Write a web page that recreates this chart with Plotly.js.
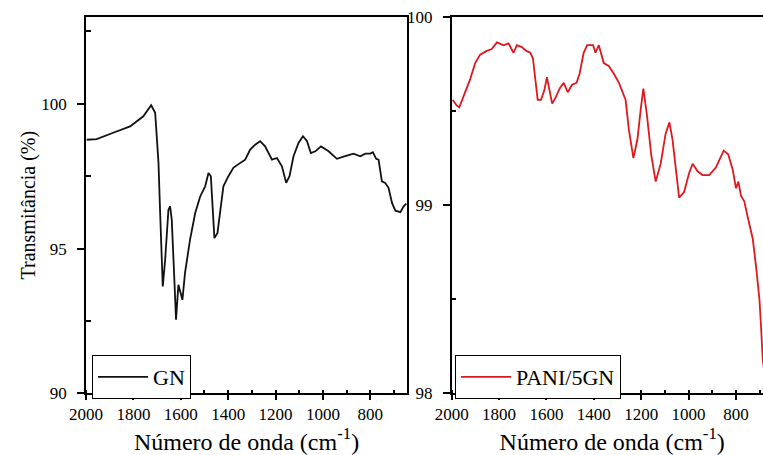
<!DOCTYPE html>
<html>
<head>
<meta charset="utf-8">
<script src="https://cdn.plot.ly/plotly-3.0.1.min.js"></script>
<style>
  html, body { margin: 0; padding: 0; overflow: hidden; background: #fff; }
  #chart { width: 780px; height: 455px; }
  #fontwarm { position: absolute; left: 0; top: 0; visibility: hidden; font-family: 'Liberation Serif', 'Times New Roman', serif; font-size: 17px; }
</style>
</head>
<body>
<div id="fontwarm">Número de onda 0123456789 Transmitância PANI/5GN</div>
<div id="chart"></div>
<script>
// FTIR spectra: wavenumber (cm-1) vs transmittance (%)
const gnWavenumber = [1997, 1955, 1885, 1814, 1758, 1725, 1708, 1694, 1687, 1676, 1666, 1652, 1645, 1638, 1627, 1620, 1610, 1603, 1593, 1582, 1561, 1539, 1518, 1497, 1483, 1473, 1465, 1458, 1445, 1434, 1420, 1399, 1378, 1349, 1328, 1307, 1286, 1265, 1244, 1215, 1194, 1173, 1155, 1141, 1124, 1103, 1084, 1067, 1051, 1032, 1008, 976, 941, 906, 871, 842, 821, 800, 789, 775, 765, 751, 737, 723, 708, 694, 673, 659, 648];
const gnTransmittance = [98.76, 98.78, 99.0, 99.22, 99.57, 99.95, 99.69, 97.96, 96.23, 93.69, 94.6, 96.34, 96.46, 96.0, 93.92, 92.54, 93.75, 93.57, 93.23, 94.16, 95.3, 96.23, 96.8, 97.15, 97.61, 97.5, 96.23, 95.36, 95.54, 96.23, 97.15, 97.5, 97.79, 97.96, 98.07, 98.42, 98.59, 98.71, 98.53, 98.07, 98.13, 97.84, 97.27, 97.5, 98.19, 98.65, 98.88, 98.71, 98.3, 98.36, 98.53, 98.36, 98.1, 98.19, 98.28, 98.19, 98.28, 98.28, 98.33, 98.1, 98.07, 97.32, 97.27, 97.1, 96.57, 96.31, 96.26, 96.46, 96.55];

const paniWavenumber = [1996, 1979, 1968, 1944, 1922, 1901, 1880, 1852, 1831, 1809, 1781, 1760, 1739, 1725, 1704, 1685, 1668, 1657, 1647, 1637, 1623, 1609, 1598, 1587, 1576, 1562, 1544, 1527, 1510, 1492, 1473, 1460, 1443, 1428, 1403, 1393, 1379, 1358, 1337, 1316, 1294, 1266, 1252, 1233, 1216, 1202, 1191, 1177, 1157, 1139, 1118, 1097, 1081, 1068, 1054, 1040, 1019, 998, 983, 962, 941, 913, 885, 852, 833, 814, 800, 790, 779, 765, 751, 729, 715, 701, 694, 687, 680, 672];
const paniTransmittance = [99.56, 99.53, 99.52, 99.60, 99.67, 99.755, 99.80, 99.82, 99.83, 99.865, 99.85, 99.86, 99.81, 99.85, 99.84, 99.82, 99.81, 99.78, 99.67, 99.56, 99.56, 99.61, 99.68, 99.61, 99.54, 99.57, 99.62, 99.65, 99.60, 99.64, 99.65, 99.70, 99.81, 99.85, 99.85, 99.81, 99.85, 99.755, 99.74, 99.70, 99.65, 99.56, 99.40, 99.25, 99.35, 99.51, 99.62, 99.49, 99.26, 99.125, 99.22, 99.38, 99.44, 99.35, 99.19, 99.04, 99.07, 99.17, 99.22, 99.18, 99.16, 99.16, 99.20, 99.29, 99.27, 99.19, 99.09, 99.125, 99.05, 99.02, 98.94, 98.82, 98.67, 98.50, 98.35, 98.18, 98.11, 97.95];

const xTickVals = [2000, 1800, 1600, 1400, 1200, 1000, 800];
const xRange = [2000, 645];

const SERIF = 'Liberation Serif, Times New Roman, serif';
const W = 780, H = 455;
const px = v => v / W;
const py = v => (H - v) / H;

// fresh font object for every use
const font = size => ({ family: SERIF, size: size, color: '#000' });

const bottomAxis = domain => ({
  domain: domain,
  range: xRange.slice(), autorange: false,
  tickmode: 'array', tickvals: xTickVals.slice(),
  ticks: 'outside', ticklen: 5, tickwidth: 1.5, tickcolor: '#000',
  minor: { ticks: 'inside', dtick: 100, tick0: 2000, ticklen: 4, tickwidth: 1.5, tickcolor: '#000' },
  showline: true, linecolor: '#000', linewidth: 1.5, mirror: true,
  showgrid: false, zeroline: false,
  tickfont: font(17),
  title: { text: 'Número de onda (cm<sup>-1</sup>)', font: font(24), standoff: 8 }
});

// inner half of the major x ticks so they cross the axis line
const innerTicks = base => ({
  overlaying: base,
  range: xRange.slice(), autorange: false,
  tickmode: 'array', tickvals: xTickVals.slice(),
  ticks: 'inside', ticklen: 5, tickwidth: 1.5, tickcolor: '#000',
  showticklabels: false, showline: false, showgrid: false, zeroline: false
});

const leftAxis = (range, vals, minorVals) => ({
  domain: [py(393.3), py(17)],
  range: range, autorange: false,
  tickmode: 'array', tickvals: vals,
  ticks: 'outside', ticklen: 7, tickwidth: 1.5, tickcolor: '#000',
  minor: { ticks: 'inside', tickvals: minorVals, ticklen: 5, tickwidth: 1.5, tickcolor: '#000' },
  showline: true, linecolor: '#000', linewidth: 1.5, mirror: true,
  showgrid: false, zeroline: false,
  ticklabelstandoff: 7,
  tickfont: font(17)
});

const legendBox = x => ({
  x: x, y: py(355), xanchor: 'left', yanchor: 'top',
  bgcolor: '#fff', bordercolor: '#000', borderwidth: 1,
  font: font(22),
  itemwidth: 50, tracegroupgap: 0
});

function buildTraces() {
  return [
    {
      x: gnWavenumber, y: gnTransmittance, type: 'scatter', mode: 'lines',
      name: 'GN', xaxis: 'x', yaxis: 'y', legend: 'legend',
      line: { color: '#111', width: 1.8 }
    },
    {
      x: paniWavenumber, y: paniTransmittance, type: 'scatter', mode: 'lines',
      name: 'PANI/5GN', xaxis: 'x2', yaxis: 'y2', legend: 'legend2',
      line: { color: 'rgb(222,24,30)', width: 1.8 }
    }
  ];
}

function buildLayout() {
  const yaxis = leftAxis([90, 103], [90, 95, 100], [92.5, 97.5, 102.5]);
  yaxis.anchor = 'x';
  yaxis.title = { text: 'Transmitância (%)', font: font(20), standoff: 0 };
  const yaxis2 = leftAxis([98, 100], [98, 99, 100], [98.5, 99.5]);
  yaxis2.anchor = 'x2';

  const xaxis = bottomAxis([px(86), px(407)]);
  xaxis.anchor = 'y';
  const xaxis2 = bottomAxis([px(451.7), px(772.7)]);
  xaxis2.anchor = 'y2';
  const xaxis3 = innerTicks('x');
  xaxis3.anchor = 'y';
  const xaxis4 = innerTicks('x2');
  xaxis4.anchor = 'y2';

  return {
    width: W, height: H,
    margin: { l: 0, r: 0, t: 0, b: 0 },
    paper_bgcolor: '#fff', plot_bgcolor: '#fff',
    font: font(16),
    showlegend: true,
    xaxis: xaxis, xaxis2: xaxis2, xaxis3: xaxis3, xaxis4: xaxis4,
    yaxis: yaxis, yaxis2: yaxis2,
    legend: legendBox(px(92)),
    legend2: legendBox(px(455))
  };
}

function draw() {
  return Plotly.newPlot('chart', buildTraces(), buildLayout(), { displayModeBar: false });
}

draw();

// redraw once the serif face is resolved so every SVG text picks it up
function redraw() {
  const warm = document.getElementById('fontwarm');
  if (warm) warm.remove();
  draw();
}
requestAnimationFrame(() => requestAnimationFrame(redraw));
setTimeout(redraw, 150);
if (document.fonts && document.fonts.ready) document.fonts.ready.then(() => setTimeout(redraw, 0));
</script>
</body>
</html>
